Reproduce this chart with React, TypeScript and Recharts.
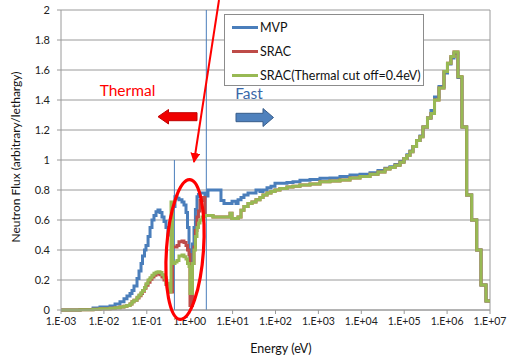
import { CartesianGrid, Line, LineChart, ReferenceLine, XAxis, YAxis } from "recharts"

// group energies (eV), step starts
const energy = [
  0.001, 0.0028, 0.0056, 0.0081, 0.0139, 0.0182, 0.0237, 0.0294, 0.0345, 0.0406,
  0.0452, 0.0503, 0.0591, 0.0658, 0.0733, 0.0794, 0.0883, 0.0957, 0.107, 0.119,
  0.132, 0.147, 0.164, 0.182, 0.203, 0.226, 0.252, 0.28, 0.312, 0.347,
  0.367, 0.397, 0.454, 0.506, 0.562, 0.661, 0.736, 0.82, 0.889, 0.964,
  1.016, 1.1, 1.16, 1.26, 1.36, 1.48, 1.6, 1.74, 1.94, 2.27,
  2.67, 3.49, 5.36, 6.3, 8.7, 9.7, 12, 13.4, 15.7, 18.4,
  22.9, 28.3, 35.1, 43.5, 51.2, 63.4, 78.6, 97.3, 127, 185,
  256, 372, 637, 1089, 1862, 3184, 5450, 9333, 15960, 24500,
  35600, 46600, 61000, 79800, 98900, 116000, 136000, 160000, 194000, 233000,
  274000, 349000, 421000, 509000, 647000, 847000, 1.02e6, 1.23e6, 1.45e6, 1.79e6,
  2.22e6, 2.86e6, 3.74e6, 4.9e6, 6.17e6, 8.07e6, 1e7,
]

const mvp = [
  0, 0.003, 0.013, 0.02, 0.027, 0.04, 0.055, 0.075, 0.093, 0.11,
  0.13, 0.16, 0.21, 0.26, 0.31, 0.36, 0.4, 0.43, 0.49, 0.55,
  0.6, 0.63, 0.655, 0.667, 0.65, 0.62, 0.59, 0.55, 0.5, 0.56,
  0.62, 0.69, 0.755, 0.745, 0.735, 0.72, 0.7, 0.65, 0.55, 0.4,
  0.31, 0.33, 0.44, 0.55, 0.67, 0.755, 0.77, 0.78, 0.78, 0.76,
  0.8, 0.8, 0.73, 0.71, 0.71, 0.725, 0.71, 0.735, 0.75, 0.767,
  0.78, 0.78, 0.8, 0.79, 0.8, 0.815, 0.825, 0.845, 0.845, 0.85,
  0.855, 0.865, 0.87, 0.878, 0.88, 0.89, 0.9, 0.905, 0.915, 0.93,
  0.945, 0.955, 0.97, 0.99, 1.01, 1.035, 1.06, 1.09, 1.13, 1.16,
  1.22, 1.28, 1.33, 1.42, 1.49, 1.58, 1.64, 1.68, 1.71, 1.55,
  1.22, 0.767, 0.6, 0.4, 0.167, 0.06, 0.06,
]

const srac = [
  0, 0.002, 0.005, 0.008, 0.012, 0.015, 0.02, 0.025, 0.03, 0.04,
  0.055, 0.065, 0.08, 0.095, 0.11, 0.125, 0.145, 0.165, 0.185, 0.205,
  0.22, 0.232, 0.24, 0.242, 0.235, 0.22, 0.2, 0.17, 0.135, 0.12,
  0.12, 0.42, 0.42, 0.43, 0.455, 0.46, 0.45, 0.43, 0.4, 0.37,
  0.03, 0.03, 0.31, 0.42, 0.53, 0.62, 0.66, 0.73, 0.75, 0.63,
  0.63, 0.62, 0.62, 0.62, 0.645, 0.61, 0.61, 0.62, 0.665, 0.69,
  0.71, 0.72, 0.735, 0.75, 0.767, 0.78, 0.79, 0.8, 0.81, 0.82,
  0.825, 0.833, 0.84, 0.855, 0.86, 0.867, 0.88, 0.89, 0.905, 0.92,
  0.94, 0.95, 0.965, 0.985, 1.01, 1.03, 1.055, 1.09, 1.13, 1.155,
  1.22, 1.28, 1.31, 1.4, 1.48, 1.59, 1.645, 1.69, 1.72, 1.555,
  1.22, 0.767, 0.6, 0.4, 0.167, 0.06, 0.06,
]

const sracCut = [
  0, 0.002, 0.005, 0.008, 0.012, 0.015, 0.02, 0.025, 0.03, 0.04,
  0.055, 0.065, 0.085, 0.1, 0.115, 0.13, 0.15, 0.175, 0.2, 0.215,
  0.232, 0.245, 0.252, 0.255, 0.25, 0.235, 0.215, 0.18, 0.14, 0.12,
  0.72, 0.31, 0.32, 0.33, 0.36, 0.367, 0.355, 0.34, 0.31, 0.29,
  0.11, 0.11, 0.31, 0.4, 0.49, 0.55, 0.58, 0.6, 0.62, 0.63,
  0.63, 0.62, 0.62, 0.62, 0.645, 0.61, 0.61, 0.62, 0.665, 0.69,
  0.71, 0.72, 0.735, 0.75, 0.767, 0.78, 0.79, 0.8, 0.81, 0.82,
  0.825, 0.833, 0.84, 0.855, 0.86, 0.867, 0.88, 0.89, 0.905, 0.92,
  0.94, 0.95, 0.965, 0.985, 1.01, 1.03, 1.055, 1.09, 1.13, 1.155,
  1.22, 1.28, 1.31, 1.4, 1.48, 1.59, 1.645, 1.69, 1.72, 1.555,
  1.22, 0.767, 0.6, 0.4, 0.167, 0.06, 0.06,
]

const xTicks = [1e-3, 1e-2, 1e-1, 1, 10, 100, 1e3, 1e4, 1e5, 1e6, 1e7]
const xTickLabels = ["1.E-03", "1.E-02", "1.E-01", "1.E+00", "1.E+01", "1.E+02", "1.E+03", "1.E+04", "1.E+05", "1.E+06", "1.E+07"]
const yTicks = [0, 0.2, 0.4, 0.6, 0.8, 1, 1.2, 1.4, 1.6, 1.8, 2]

const series = [
  { key: "mvp", name: "MVP", color: "#4A7EBB" },
  { key: "srac", name: "SRAC", color: "#BE4B48" },
  { key: "sracCut", name: "SRAC(Thermal cut off=0.4eV)", color: "#98B954" },
]

const FONT = "Lato, 'Open Sans', sans-serif"
const GRID = "#9A9A9A"

const data = energy.map((e, i) => ({ energy: e, mvp: mvp[i], srac: srac[i], sracCut: sracCut[i] }))

function xLabel(v: number) {
  const i = xTicks.findIndex((t) => Math.abs(Math.log10(t) - Math.log10(v)) < 1e-6)
  return i >= 0 ? xTickLabels[i] : ""
}

export default function App() {
  return (
    <div style={{ position: "absolute", left: 0, top: 0, width: 508, height: 358, background: "#fff", fontFamily: FONT }}>
      <LineChart width={508} height={358} data={data} margin={{ top: 10, right: 18, bottom: 18, left: 0 }}>
        <CartesianGrid vertical={false} stroke={GRID} strokeWidth={1} />
        <XAxis
          dataKey="energy"
          type="number"
          scale="log"
          domain={[1e-3, 1e7]}
          ticks={xTicks}
          allowDataOverflow
          tickFormatter={xLabel}
          height={30}
          stroke={GRID}
          tickSize={4}
          tickMargin={4}
          tick={{ fontSize: 10.5, fill: "#222", fontFamily: FONT }}
        />
        <YAxis
          type="number"
          domain={[0, 2]}
          ticks={yTicks}
          width={61}
          stroke={GRID}
          tickSize={4}
          tickMargin={7}
          tick={{ fontSize: 11, fill: "#222", fontFamily: FONT }}
        />
        <ReferenceLine x={1e7} stroke={GRID} />
        <ReferenceLine segment={[{ x: 0.44, y: 0 }, { x: 0.44, y: 1 }]} stroke="#4A7EBB" strokeWidth={1} />
        <ReferenceLine x={2.44} stroke="#4A7EBB" strokeWidth={1} />
        {series.map((s) => (
          <Line
            key={s.key}
            dataKey={s.key}
            name={s.name}
            type="stepAfter"
            stroke={s.color}
            strokeWidth={3}
            dot={false}
            activeDot={false}
            isAnimationActive={false}
          />
        ))}
      </LineChart>

      {/* legend */}
      <div
        style={{
          position: "absolute",
          left: 224,
          top: 14,
          width: 198,
          height: 70,
          border: "1px solid #8C8C8C",
          background: "#fff",
        }}
      >
        {series.map((s, i) => (
          <div key={s.key} style={{ position: "absolute", left: 7, top: 4 + i * 24, height: 16, display: "flex", alignItems: "center" }}>
            <div style={{ width: 26, height: 3, background: s.color }} />
            <span style={{ marginLeft: 2, fontSize: 12.5, color: "#111", whiteSpace: "nowrap" }}>{s.name}</span>
          </div>
        ))}
      </div>

      {/* annotations */}
      <svg width={508} height={358} style={{ position: "absolute", left: 0, top: 0, pointerEvents: "none" }}>
        <defs>
          <marker id="head" markerWidth="10" markerHeight="10" refX="9" refY="5" orient="auto" markerUnits="userSpaceOnUse">
            <path d="M0,0 L10,5 L0,10 Z" fill="#FF0000" />
          </marker>
        </defs>
        <text x={17} y={157} transform="rotate(-90 17 157)" textAnchor="middle" dominantBaseline="middle" fontSize={12} fill="#111">
          Neutron Flux (arbitrary/lethargy)
        </text>
        <text x={281} y={350} textAnchor="middle" dominantBaseline="middle" fontSize={12.5} fill="#111">
          Energy (eV)
        </text>
        <text x={127.5} y={92} textAnchor="middle" dominantBaseline="middle" fontSize={15.5} fill="#FF0000">
          Thermal
        </text>
        <text x={249} y={95} textAnchor="middle" dominantBaseline="middle" fontSize={15.5} fill="#3A67A8">
          Fast
        </text>
        <path d="M158,116.7 L168.5,109.5 L168.5,112.7 L197,112.7 L197,120.7 L168.5,120.7 L168.5,124 Z" fill="#F00000" stroke="#C00000" strokeWidth={1} />
        <path d="M273.5,117.5 L263,108.5 L263,113.3 L236,113.3 L236,121.7 L263,121.7 L263,126.5 Z" fill="#4F81BD" stroke="#385D8A" strokeWidth={1} />
        <line x1={219} y1={0} x2={194} y2={162} stroke="#FF0000" strokeWidth={2} markerEnd="url(#head)" />
        <ellipse cx={185} cy={249.5} rx={18.5} ry={70} transform="rotate(4 185 249.5)" fill="none" stroke="#FF0000" strokeWidth={3.2} />
      </svg>
    </div>
  )
}
